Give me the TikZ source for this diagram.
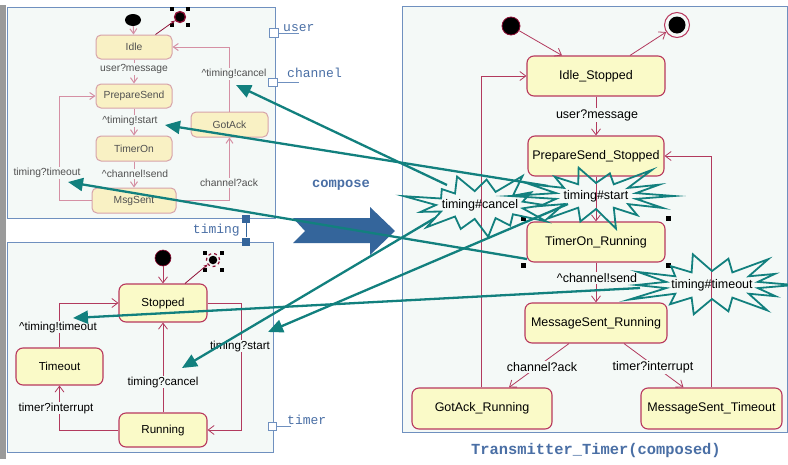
\documentclass[tikz,border=0pt]{standalone}
\usepackage{fontspec}
\setmainfont{Liberation Sans}
\newfontfamily\portfont{Liberation Mono}
\usetikzlibrary{arrows.meta,shapes.geometric}

\definecolor{panelbg}{HTML}{F4F9F7}
\definecolor{panelln}{HTML}{6F90BF}
\definecolor{stfill}{HTML}{FAFAC8}
\definecolor{stline}{HTML}{B8385E}
\definecolor{trline}{HTML}{B23A5E}
\definecolor{fadefill}{HTML}{F9F1C4}
\definecolor{fadeline}{HTML}{D7A3AA}
\definecolor{fadetext}{HTML}{505050}
\definecolor{fadetr}{HTML}{D590A4}
\definecolor{linkteal}{HTML}{12807E}
\definecolor{composeblue}{HTML}{34659B}
\definecolor{portblue}{HTML}{4A6FA5}
\definecolor{darkred}{HTML}{8E0F35}
\definecolor{edgegray}{HTML}{9A9A9A}

\begin{document}
\begin{tikzpicture}[x=1pt,y=-1pt,
  panel/.style={draw=panelln,fill=panelbg,line width=0.9pt},
  rst/.style={draw=stline,fill=stfill,rounded corners=7pt,line width=1.1pt,
    inner sep=0pt,font=\fontsize{12.5}{14}\selectfont},
  bst/.style={rst,font=\fontsize{11.6}{13}\selectfont},
  fst/.style={draw=fadeline,fill=fadefill,rounded corners=5pt,line width=1pt,
    inner sep=0pt,text=fadetext,font=\fontsize{10.3}{12}\selectfont},
  rtr/.style={draw=trline,line width=0.8pt,-{Straight Barb[length=6pt,width=9pt]}},
  ftr/.style={draw=fadetr,line width=1pt,-{Straight Barb[length=5pt,width=7pt]}},
  fin/.style={draw=darkred,line width=0.8pt,-{Stealth[length=4pt,width=3.5pt]}},
  rlbl/.style={fill=panelbg,inner sep=1pt,font=\fontsize{12.5}{14}\selectfont},
  blbl/.style={fill=panelbg,inner sep=1pt,font=\fontsize{11.6}{13}\selectfont},
  flbl/.style={fill=panelbg,inner sep=1pt,text=fadetext,font=\fontsize{10.3}{12}\selectfont},
  bursttxt/.style={inner sep=0pt,font=\fontsize{12.5}{14}\selectfont},
  burstln/.style={draw=linkteal,line width=1.8pt,line join=miter,miter limit=20},
  link/.style={draw=linkteal,line width=2.3pt,-{Triangle[length=15pt,width=13pt]}},
  handle/.style={fill=black,minimum size=4.5pt,inner sep=0pt},
  portsq/.style={draw=panelln,fill=white,line width=0.9pt,minimum size=8.5pt,inner sep=0pt},
  portdot/.style={fill=composeblue,minimum size=8pt,inner sep=0pt},
  portln/.style={draw=panelln,line width=0.9pt},
  porttxt/.style={text=portblue,inner sep=0pt,font=\portfont\fontsize{13}{15}\selectfont},
]
\useasboundingbox (0,0) rectangle (788,464);
\fill[white] (0,0) rectangle (788,464);
\fill[edgegray] (0,5) rectangle (6,459);

% ---------- panels ----------
\draw[panel] (7,7) rectangle (275,218);
\draw[panel] (7,242) rectangle (273,452);
\draw[panel] (402,6) rectangle (787,432);

% ---------- Transmitter (top left) ----------
\node[ellipse,fill=black,minimum width=16pt,minimum height=12pt,inner sep=0pt] (init1) at (133,20) {};
\node[circle,draw=darkred,line width=1.3pt,fill=black,minimum size=11pt,inner sep=0pt] (fin1) at (180,17) {};
\node[handle,minimum size=4pt] (h1) at (172,9) {};
\node[handle,minimum size=4pt] (h2) at (188,9) {};
\node[handle,minimum size=4pt] (h3) at (188,25) {};
\node[handle,minimum size=4pt] (h4) at (172,25) {};

\node[fst,minimum width=76pt,minimum height=24pt] (idle) at (134,47) {Idle};
\node[fst,minimum width=76pt,minimum height=24pt] (prep) at (134,96) {PrepareSend};
\node[fst,minimum width=76pt,minimum height=25pt] (timeron) at (134,148.5) {TimerOn};
\node[fst,minimum width=84pt,minimum height=25pt] (msgsent) at (134,200.5) {MsgSent};
\node[fst,minimum width=77pt,minimum height=25pt] (gotack) at (229.5,124.5) {GotAck};

\draw[ftr] (init1) -- (idle);
\draw[fin] ([xshift=-17pt]idle.north east) -- (fin1);
\draw[ftr] (idle) -- (prep);
\draw[ftr] (prep) -- (timeron);
\draw[ftr] (timeron) -- (msgsent);
\draw[ftr] (msgsent.west) -- ++(-32,0) |- (prep.west);
\draw[ftr] (msgsent.east) -| (gotack.south);
\draw[ftr] (gotack.north) |- (idle.east);

\node[flbl] (l1) at (134,69) {user?message};
\node[flbl] (l2) at (130,121) {\textasciicircum timing!start};
\node[flbl] (l3) at (135,174) {\textasciicircum channel!send};
\node[flbl] (l4) at (47,173) {timing?timeout};
\node[flbl] (l5) at (229,183) {channel?ack};
\node[flbl] (l6) at (234,74) {\textasciicircum timing!cancel};

% ports of the transmitter
\node[portsq] (pUser) at (274,33) {};
\draw[portln] (pUser.east) -- ++(20,0);
\node[porttxt,anchor=base west] (tUser) at (283,31) {user};
\node[portsq] (pChan) at (273,82.5) {};
\draw[portln] (pChan.east) -- ++(21,0);
\node[porttxt,anchor=base west] (tChan) at (287,77) {channel};

% ---------- Timer (bottom left) ----------
\node[circle,fill=black,draw=darkred,line width=0.6pt,minimum size=16pt,inner sep=0pt] (init2) at (163,258) {};
\node[circle,draw=darkred,line width=1.2pt,dashed,minimum size=13pt,inner sep=0pt] (fin2) at (213,260) {};
\node[circle,fill=black,minimum size=8.5pt,inner sep=0pt] (fin2in) at (213,260) {};
\node[handle] (h5) at (205,253) {};
\node[handle] (h6) at (222,253) {};
\node[handle] (h7) at (222,270) {};
\node[handle] (h8) at (205,270) {};

\node[bst,minimum width=88pt,minimum height=38pt] (stopped) at (163,303) {Stopped};
\node[bst,minimum width=87pt,minimum height=37pt] (timeout) at (59.5,366.5) {Timeout};
\node[bst,minimum width=88pt,minimum height=34pt] (running) at (163,430) {Running};

\draw[rtr] (init2) -- (stopped);
\draw[fin] ([xshift=22pt]stopped.north) -- (fin2);
\draw[rtr] (running) -- (stopped);
\draw[rtr] (stopped.east) -- ++(34,0) |- (running.east);
\draw[rtr] (running.west) -| (timeout.south);
\draw[rtr] (timeout.north) |- (stopped.west);

\node[blbl] (l7) at (163,382) {timing?cancel};
\node[blbl] (l8) at (240,346) {timing?start};
\node[blbl] (l9) at (56,408) {timer?interrupt};
\node[blbl] (l10) at (58,327) {\textasciicircum timing!timeout};

% ports of the timer
\node[portsq] (pTimer) at (272.5,426.5) {};
\draw[portln] (pTimer.east) -- ++(14,0);
\node[porttxt,anchor=base west] (tTimer) at (287,424) {timer};
\node[portdot] (pTimA) at (246,219) {};
\node[portdot] (pTimB) at (246,241.5) {};
\draw[portln,draw=composeblue] (pTimA) -- (pTimB);
\node[porttxt,anchor=base east] (tTiming) at (240,233) {timing};

% ---------- compose arrow ----------
\fill[composeblue] (293,218) -- (370,218) -- (370,207) -- (395,231)
  -- (370,255) -- (370,243) -- (293,243) -- (305,231) -- cycle;
\node[porttxt,font=\portfont\bfseries\fontsize{13.8}{15}\selectfont] (tCompose) at (341,185) {compose};

% ---------- Transmitter_Timer (right) ----------
\node[circle,fill=black,draw=darkred,line width=0.8pt,minimum size=18pt,inner sep=0pt] (init3) at (511,26) {};
\node[circle,draw=stline,line width=1pt,fill=panelbg,minimum size=25pt,inner sep=0pt] (fin3) at (677,25) {};
\node[circle,fill=black,minimum size=17pt,inner sep=0pt] (fin3in) at (677,25) {};

\node[rst,minimum width=138pt,minimum height=40pt] (idleS) at (596,76) {Idle\_Stopped};
\node[rst,minimum width=136pt,minimum height=40pt] (prepS) at (596,156) {PrepareSend\_Stopped};
\node[rst,minimum width=138pt,minimum height=40pt] (timerR) at (596,242) {TimerOn\_Running};
\node[rst,minimum width=142pt,minimum height=40pt] (msgR) at (596,323) {MessageSent\_Running};
\node[rst,minimum width=140pt,minimum height=41pt] (gotR) at (482,408.5) {GotAck\_Running};
\node[rst,minimum width=141pt,minimum height=41pt] (msgT) at (711.5,408.5) {MessageSent\_Timeout};

\node[handle,minimum size=5pt] (h9) at (523,218) {};
\node[handle,minimum size=5pt] (h10) at (668,218) {};
\node[handle,minimum size=5pt] (h11) at (523,265) {};
\node[handle,minimum size=5pt] (h12) at (668,265) {};

\draw[rtr] (init3) -- ([xshift=-34pt]idleS.north);
\draw[rtr] ([xshift=34pt]idleS.north) -- (fin3);
\draw[rtr] (idleS) -- (prepS);
\draw[rtr] (prepS) -- (timerR);
\draw[rtr] (timerR) -- (msgR);
\draw[rtr] ([xshift=-27pt]msgR.south) -- ([xshift=27pt]gotR.north);
\draw[rtr] ([xshift=28pt]msgR.south) -- ([xshift=-28pt]msgT.north);
\draw[rtr] ([xshift=-1pt]gotR.north) |- (idleS.west);
\draw[rtr] (msgT.north) |- (prepS.east);

\node[rlbl] (l11) at (597,115) {user?message};
\node[rlbl] (l12) at (597,278) {\textasciicircum channel!send};
\node[rlbl] (l13) at (542,367) {channel?ack};
\node[rlbl] (l14) at (653,367) {timer?interrupt};

\node[porttxt,font=\portfont\bfseries\fontsize{15.4}{17}\selectfont] (tTitle) at (596,451) {Transmitter\_Timer(composed)};

% ---------- shared events linked back to their origins ----------
\coordinate (srcA) at (447,185);
\coordinate (srcB) at (548,186);
\coordinate (srcC) at (527,259);
\coordinate (srcD) at (640,288);
\coordinate (srcE) at (568,204);
\coordinate (srcF) at (435,218);
\coordinate (tipA) at (236,85);
\coordinate (tipB) at (165,125);
\coordinate (tipC) at (68,182);
\coordinate (tipD) at (73,318);
\coordinate (tipE) at (268,332);
\coordinate (tipF) at (182,368);
\draw[link] (srcA) -- (tipA);
\draw[link] (srcB) -- (tipB);
\draw[link] (srcC) -- (tipC);
\draw[link] (srcD) -- (tipD);
\draw[link] (srcE) -- (tipE);
\draw[link] (srcF) -- (tipF);

% event bursts: text first, then a jagged outline around it
\node[bursttxt] (bCancel) at (480,205) {timing\#cancel};
\node[bursttxt] (bStart) at (596,196) {timing\#start};
\node[bursttxt] (bTimeout) at (712,285) {timing\#timeout};

\draw[burstln] ([shift={(0:64pt and 30pt)}]bCancel.center)
  \foreach \k/\f [evaluate=\k as \ang using \k*360/13,
                  evaluate=\k as \angi using \k*360/13-180/13,
                  evaluate=\f as \rx using 68*\f,
                  evaluate=\f as \ry using 32*\f] in
  {1/0.85,2/1.1,3/0.8,4/0.95,5/0.75,6/1.15,7/0.9,8/1.05,9/0.8,10/1.0,11/0.78,12/1.1,13/0.94}
  { -- ([shift={(\angi:44pt and 14pt)}]bCancel.center)
    -- ([shift={(\ang:\rx pt and \ry pt)}]bCancel.center) } -- cycle;

\draw[burstln] ([shift={(0:78pt and 29pt)}]bStart.center)
  \foreach \k/\f [evaluate=\k as \ang using \k*360/14,
                  evaluate=\k as \angi using \k*360/14-180/14,
                  evaluate=\f as \rx using 78*\f,
                  evaluate=\f as \ry using 29*\f] in
  {1/0.9,2/1.15,3/0.8,4/1.0,5/0.85,6/0.95,7/1.1,8/0.8,9/1.0,10/0.9,11/1.15,12/0.85,13/0.95,14/1.0}
  { -- ([shift={(\angi:41pt and 13pt)}]bStart.center)
    -- ([shift={(\ang:\rx pt and \ry pt)}]bStart.center) } -- cycle;

\draw[burstln] ([shift={(0:82pt and 30pt)}]bTimeout.center)
  \foreach \k/\f [evaluate=\k as \ang using \k*360/14,
                  evaluate=\k as \angi using \k*360/14-180/14,
                  evaluate=\f as \rx using 82*\f,
                  evaluate=\f as \ry using 30*\f] in
  {1/0.85,2/1.1,3/0.9,4/1.05,5/0.8,6/1.0,7/0.92,8/1.12,9/0.82,10/1.0,11/0.9,12/1.08,13/0.86,14/1.0}
  { -- ([shift={(\angi:47pt and 14pt)}]bTimeout.center)
    -- ([shift={(\ang:\rx pt and \ry pt)}]bTimeout.center) } -- cycle;
\end{tikzpicture}
\end{document}
